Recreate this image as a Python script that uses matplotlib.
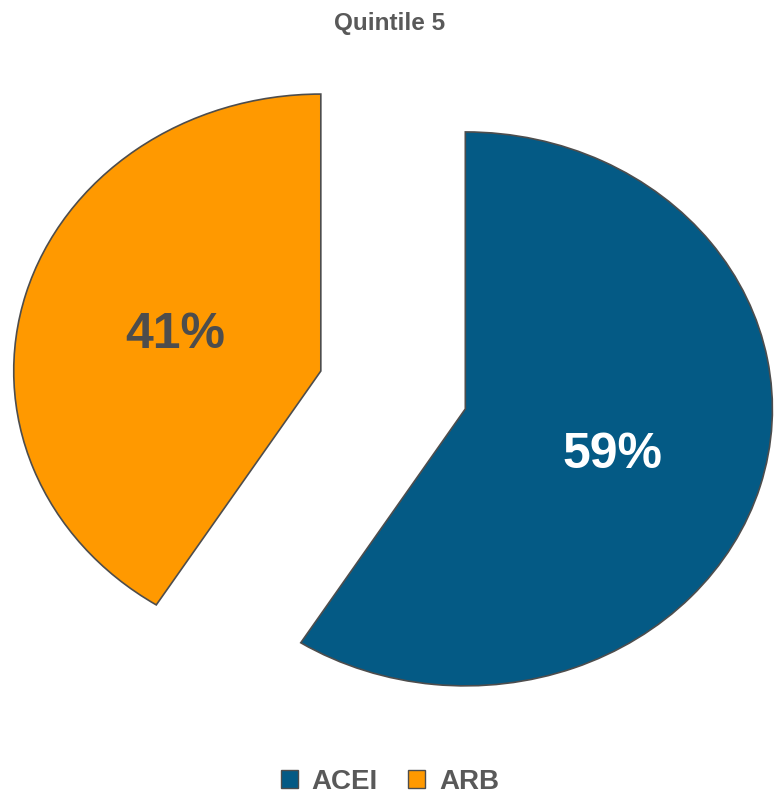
import matplotlib
matplotlib.use('Agg')
import matplotlib.pyplot as plt
from matplotlib.patches import Patch

plt.rcParams['font.family'] = ['Liberation Sans', 'DejaVu Sans']

labels = ['ACEI', 'ARB']
shares = [59, 41]
colors = ['#045A85', '#FF9900']
pct_colors = ['white', '#4D4D4D']

fig = plt.figure(figsize=(7.8, 7.96), dpi=100)
ax = fig.add_axes([0, 0, 1, 1])

wedges, texts, autotexts = ax.pie(
    shares, colors=colors, startangle=90, counterclock=False,
    explode=[0.245, 0.245], autopct='%1.0f%%', pctdistance=0.5,
    wedgeprops=dict(edgecolor='#4D4D4D', linewidth=1.2),
    textprops=dict(fontsize=36, fontweight='bold'))
for t, c in zip(autotexts, pct_colors):
    t.set_color(c)
autotexts[0].set_position((0.715, -0.235))
autotexts[1].set_position((-0.71, 0.2))

# reference is stretched horizontally, so the axes are not square
ax.set_aspect('auto')
ax.set_xlim(-1.280, 1.260)
ax.set_ylim(-1.466, 1.408)
ax.axis('off')

fig.text(0.5, 0.971, 'Quintile 5', ha='center', va='center',
         fontsize=17.5, fontweight='bold', color='#595959')

handles = [Patch(facecolor=c, edgecolor='#4D4D4D', linewidth=1) for c in colors]
fig.legend(handles, labels, loc='center', bbox_to_anchor=(0.5, 0.018),
           ncol=2, frameon=False, handlelength=0.6, handleheight=0.6,
           handletextpad=0.5, columnspacing=1.1,
           prop=dict(size=20, weight='bold'), labelcolor='#595959')

fig.savefig('out.png', dpi=100)
